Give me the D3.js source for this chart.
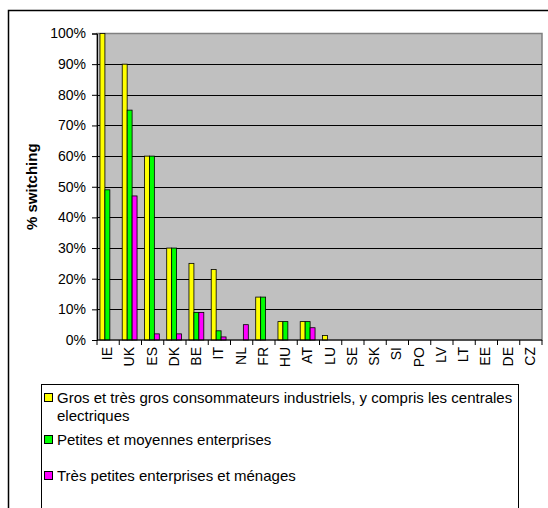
<!DOCTYPE html>
<html>
<head>
<meta charset="utf-8">
<script src="https://cdn.jsdelivr.net/npm/d3@7"></script>
<style>
  body { margin: 0; background: #ffffff; }
  text { font-family: "Liberation Sans", Arial, sans-serif; fill: #000000; }
</style>
</head>
<body>
<svg id="chart" width="548" height="508"></svg>
<script>
// categories (countries)
const countries = ["IE", "UK", "ES", "DK", "BE", "IT", "NL", "FR", "HU", "AT",
    "LU", "SE", "SK", "SI", "PO", "LV", "LT", "EE", "DE", "CZ"];

// % switching per customer group
const largeUsers = [100, 90, 60, 30, 25, 23, 0, 14, 6, 6, 1.5, 0, 0, 0, 0, 0, 0, 0, 0, 0];
const smeUsers = [49, 75, 60, 30, 9, 3, 0, 14, 6, 6, 0, 0, 0, 0, 0, 0, 0, 0, 0, 0];
const smallUsers = [0, 47, 2, 2, 9, 1, 5, 0, 0, 4, 0, 0, 0, 0, 0, 0, 0, 0, 0, 0];

const seriesNames = [
    ["Gros et très gros consommateurs industriels, y compris les centrales", "electriques"],
    ["Petites et moyennes enterprises"],
    ["Très petites enterprises et ménages"]
];
const seriesColors = ["#FFFF00", "#00FF00", "#FF00FF"];
const yTicks = [0, 10, 20, 30, 40, 50, 60, 70, 80, 90, 100];

const svg = d3.select("#chart");

// outer chart frame (runs off the right and bottom)
svg.append("rect")
    .attr("x", 8.5).attr("y", 10.5)
    .attr("width", 560).attr("height", 520)
    .attr("fill", "#ffffff")
    .attr("stroke", "#000000")
    .attr("stroke-width", 1.5);

const plot = {left: 97, right: 542, top: 33.5, bottom: 340};

const x = d3.scaleBand()
    .domain(countries)
    .range([plot.left, plot.right])
    .paddingInner(0).paddingOuter(0);

const y = d3.scaleLinear()
    .domain([0, 100])
    .range([plot.bottom, plot.top]);

// plot background
svg.append("rect")
    .attr("x", plot.left).attr("y", plot.top)
    .attr("width", plot.right - plot.left)
    .attr("height", plot.bottom - plot.top)
    .attr("fill", "#C0C0C0")
    .attr("stroke", "#808080")
    .attr("stroke-width", 1.5);

// gridlines
svg.append("g")
    .selectAll("line")
    .data(yTicks.filter(d => d > 0 && d < 100))
    .enter().append("line")
    .attr("x1", plot.left).attr("x2", plot.right)
    .attr("y1", d => Math.round(y(d)) + 0.5)
    .attr("y2", d => Math.round(y(d)) + 0.5)
    .attr("stroke", "#000000")
    .attr("stroke-width", 1);

// y axis
const yAxis = d3.axisLeft(y)
    .tickValues(yTicks)
    .tickSize(5)
    .tickPadding(6)
    .tickFormat(d => d + "%");
const gy = svg.append("g")
    .attr("transform", "translate(" + plot.left + ",0)")
    .call(yAxis);
gy.select(".domain").attr("stroke", "#000000");
gy.selectAll("text")
    .style("font-size", "14px")
    .style("font-family", "Liberation Sans, Arial, sans-serif");

// y axis title
svg.append("text")
    .attr("transform", "translate(37," + ((plot.top + plot.bottom) / 2) + ") rotate(-90)")
    .attr("text-anchor", "middle")
    .style("font-size", "15px")
    .style("font-weight", "bold")
    .text("% switching");

// bars
const series = [largeUsers, smeUsers, smallUsers];
const bw = x.bandwidth() / 4.5;
series.forEach(function (values, s) {
    svg.append("g")
        .selectAll("rect")
        .data(countries.map((c, i) => ({country: c, value: values[i]})).filter(d => d.value > 0))
        .enter().append("rect")
        .attr("x", d => x(d.country) + bw * 0.6 + s * bw)
        .attr("width", bw)
        .attr("y", d => y(d.value))
        .attr("height", d => y(0) - y(d.value))
        .attr("fill", seriesColors[s])
        .attr("stroke", "#000000")
        .attr("stroke-width", 0.8);
});

// x axis line and ticks at category boundaries
svg.append("line")
    .attr("x1", plot.left).attr("x2", plot.right)
    .attr("y1", plot.bottom).attr("y2", plot.bottom)
    .attr("stroke", "#000000");
svg.append("g")
    .selectAll("line")
    .data(countries.concat(["end"]))
    .enter().append("line")
    .attr("x1", (d, i) => plot.left + i * x.step())
    .attr("x2", (d, i) => plot.left + i * x.step())
    .attr("y1", plot.bottom)
    .attr("y2", plot.bottom + 5)
    .attr("stroke", "#000000");

// x labels (vertical)
svg.append("g")
    .selectAll("text")
    .data(countries)
    .enter().append("text")
    .attr("transform", d => "translate(" + (x(d) + x.bandwidth() / 2 - 1) + "," + (plot.bottom + 7) + ") rotate(-90)")
    .attr("text-anchor", "end")
    .attr("dy", "0.35em")
    .style("font-size", "14px")
    .text(d => d);

// legend
const legend = svg.append("g");
legend.append("rect")
    .attr("x", 41.5).attr("y", 384.5)
    .attr("width", 477).attr("height", 140)
    .attr("fill", "#ffffff")
    .attr("stroke", "#000000")
    .attr("stroke-width", 1);

const legendRows = [398, 440, 476];
seriesNames.forEach(function (lines, s) {
    legend.append("rect")
        .attr("x", 44.5).attr("y", legendRows[s] - 4.5)
        .attr("width", 8).attr("height", 8)
        .attr("fill", seriesColors[s])
        .attr("stroke", "#000000");
    lines.forEach(function (line, j) {
        legend.append("text")
            .attr("x", 57)
            .attr("y", legendRows[s] + j * 18)
            .attr("dy", "0.35em")
            .style("font-size", "15px")
            .text(line);
    });
});
</script>
</body>
</html>
